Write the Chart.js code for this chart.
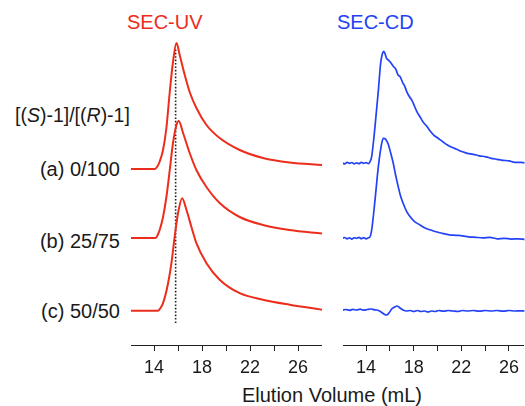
<!DOCTYPE html>
<html>
<head>
<meta charset="utf-8">
<script src="https://cdn.jsdelivr.net/npm/chart.js@4/dist/chart.umd.min.js"></script>
<style>
  html, body { margin: 0; padding: 0; background: #fff; overflow: hidden; }
  body { width: 525px; height: 406px; position: relative; font-family: "Liberation Sans", Arial, sans-serif; }
  .t { position: absolute; white-space: nowrap; line-height: 20px; font-size: 20px; color: #1a1a1a; }
  canvas { position: absolute; top: 0; }
</style>
</head>
<body>
<div class="t" id="titleUV" style="left:127px; top:12px; color:#ec2d1c;">SEC-UV</div>
<div class="t" id="titleCD" style="left:337px; top:12px; color:#2342f6;">SEC-CD</div>
<div class="t" style="left:15px; top:105px; font-size:19.5px;">[(<i>S</i>)-1]/[(<i>R</i>)-1]</div>
<div class="t" id="labA" style="right:405px; top:159px;"></div>
<div class="t" id="labB" style="right:405px; top:231px;"></div>
<div class="t" id="labC" style="right:405px; top:301px;"></div>
<div class="t" style="left:0; width:664px; text-align:center; top:385px;">Elution Volume (mL)</div>
<canvas id="uv" width="191" height="406" style="left:131px;"></canvas>
<canvas id="cd" width="182" height="406" style="left:343px;"></canvas>
<script>
// ---- data ----
const sampleLabels = ["(a) 0/100", "(b) 25/75", "(c) 50/50"];
const tickValues = [14, 16, 18, 20, 22, 24, 26];
const tickLabels = ["14", "", "18", "", "22", "", "26"];

// SEC-UV traces (elution volume mL, signal a.u. above each baseline)
const uvAx = [12.0, 14.06, 14.3, 14.47, 14.75, 15.03, 15.31, 15.58, 15.87, 16.14, 16.56, 16.97, 17.53, 18.37, 19.47, 21.14, 23.08, 25.3, 28.0];
const uvAy = [0, 0, 0.3, 0.75, 1.9, 4.1, 7.7, 10.7, 12.6, 11.4, 9.4, 7.7, 6.1, 4.4, 3.1, 1.9, 1.1, 0.65, 0.4];
const uvBx = [12.0, 14.14, 14.3, 14.47, 14.75, 15.03, 15.31, 15.58, 15.87, 16.06, 16.42, 16.97, 17.53, 18.37, 19.47, 21.14, 23.08, 25.3, 28.0];
const uvBy = [0, 0, 0.3, 0.8, 2.1, 4.1, 6.8, 9.5, 11.3, 11.7, 10.5, 8.5, 6.8, 5.1, 3.5, 2.1, 1.3, 0.8, 0.45];
const uvCx = [12.0, 14.33, 14.5, 14.75, 15.17, 15.45, 15.72, 16.0, 16.34, 16.7, 17.11, 17.53, 18.37, 19.47, 21.14, 23.08, 25.3, 28.0];
const uvCy = [0, 0, 0.2, 0.75, 2.75, 4.75, 7.4, 9.75, 11.25, 10.1, 8.4, 6.75, 4.75, 3.1, 1.75, 1.1, 0.6, 0.1];

// SEC-CD traces
const cdAx = [12.0, 12.2, 12.4, 12.6, 12.8, 13.0, 13.2, 13.4, 13.6, 13.8, 14.0, 14.2, 14.3, 14.47, 14.75, 15.03, 15.22, 15.38, 15.48, 15.58, 15.72, 15.9, 16.05, 16.28, 16.5, 16.7, 16.83, 17.1, 17.25, 17.4, 17.67, 17.85, 18.0, 18.25, 18.5, 18.8, 19.1, 19.33, 19.7, 20.05, 20.44, 20.8, 21.2, 21.6, 22.1, 22.5, 23.0, 23.5, 24.06, 24.5, 25.0, 25.5, 26.0, 26.5, 27.0, 27.3];
const cdAy = [0.05, -0.05, 0.1, 0, 0.08, -0.06, 0.05, -0.04, 0.1, 0, 0.07, -0.03, 0.1, 0.7, 3.7, 7.3, 10.0, 11.0, 11.2, 11.0, 10.5, 10.3, 10.1, 9.7, 9.4, 8.8, 8.7, 8.0, 7.7, 7.2, 6.6, 6.3, 5.9, 5.2, 4.7, 4.1, 3.7, 3.3, 2.8, 2.5, 2.15, 1.85, 1.6, 1.4, 1.15, 1.0, 0.9, 0.75, 0.65, 0.5, 0.4, 0.3, 0.25, 0.1, 0.1, 0.05];
const cdBx = [12.0, 12.2, 12.4, 12.6, 12.8, 13.0, 13.2, 13.4, 13.6, 13.8, 14.0, 14.2, 14.3, 14.47, 14.75, 15.03, 15.31, 15.45, 15.53, 15.7, 15.86, 16.05, 16.28, 16.5, 16.69, 16.9, 17.11, 17.4, 17.67, 18.0, 18.5, 19.0, 19.5, 19.89, 20.4, 21.0, 21.5, 22.1, 22.6, 23.2, 23.8, 24.4, 25.0, 25.6, 26.2, 26.8, 27.3];
const cdBy = [0, 0.08, -0.05, 0.05, -0.08, 0.05, 0, 0.1, -0.04, 0.06, -0.05, 0.05, 0.1, 0.85, 3.85, 7.2, 9.5, 10.0, 10.0, 9.8, 9.4, 8.6, 7.5, 6.2, 5.2, 4.2, 3.5, 2.7, 2.2, 1.75, 1.35, 1.0, 0.8, 0.65, 0.5, 0.35, 0.3, 0.25, 0.15, 0.1, 0.05, 0.1, -0.05, 0, -0.08, -0.05, -0.1];
const cdCx = [12.0, 12.3, 12.6, 12.9, 13.2, 13.5, 13.8, 14.1, 14.4, 14.7, 14.9, 15.2, 15.5, 15.72, 15.95, 16.15, 16.4, 16.6, 16.8, 17.1, 17.4, 17.7, 18.0, 18.3, 18.6, 18.9, 19.2, 19.5, 19.8, 20.1, 20.5, 20.9, 21.3, 21.7, 22.1, 22.5, 23.0, 23.5, 24.0, 24.5, 25.0, 25.5, 26.0, 26.5, 27.0, 27.3];
const cdCy = [0, 0.05, -0.03, 0.06, 0, 0.08, -0.02, 0.05, 0.1, 0.02, 0, -0.15, -0.4, -0.5, -0.25, 0.1, 0.3, 0.4, 0.25, 0, -0.1, -0.05, -0.15, -0.05, -0.15, -0.1, -0.2, -0.1, -0.15, -0.05, -0.12, -0.05, -0.1, -0.15, -0.05, -0.1, -0.05, -0.12, -0.05, -0.1, -0.05, -0.12, -0.05, -0.1, -0.08, -0.1];

// vertical offsets of the stacked traces (a, b, c)
const uvOffsets = [17.6, 10.7, 3.43];
const cdOffsets = [18.17, 10.67, 3.5];
// reference line at the (a) UV peak elution volume
const refVolume = 15.8;
const refSpan = [2.2, 29.7];

// ---- build ----
document.getElementById('labA').textContent = sampleLabels[0];
document.getElementById('labB').textContent = sampleLabels[1];
document.getElementById('labC').textContent = sampleLabels[2];

const RED = '#ec2d1c', BLUE = '#2342f6';
const pts = (xs, ys, off) => xs.map((x, i) => ({ x: x, y: ys[i] + off }));

function lineDs(data, color, width) {
  return { data, borderColor: color, borderWidth: width, pointRadius: 0, fill: false,
           cubicInterpolationMode: 'monotone', clip: 4 };
}

function xAxis(min, max) {
  return {
    type: 'linear', min, max,
    afterBuildTicks: s => { s.ticks = tickValues.map(v => ({ value: v })); },
    afterFit: s => { s.height = 61; },
    grid: { display: true, drawOnChartArea: false, drawTicks: true, tickLength: 6, tickColor: '#222', lineWidth: 1 },
    border: { display: true, color: '#222', width: 1 },
    ticks: {
      autoSkip: false, maxRotation: 0, padding: 6, color: '#1a1a1a',
      font: { family: '"Liberation Sans", Arial, sans-serif', size: 18 },
      callback: (v) => { const i = tickValues.indexOf(v); return i >= 0 ? tickLabels[i] : ''; }
    }
  };
}

const common = {
  responsive: false, animation: false, devicePixelRatio: 1,
  layout: { padding: 0 },
  plugins: { legend: { display: false }, tooltip: { enabled: false } },
};

new Chart(document.getElementById('uv'), {
  type: 'line',
  data: { datasets: [
    lineDs(pts(uvAx, uvAy, uvOffsets[0]), RED, 2),
    lineDs(pts(uvBx, uvBy, uvOffsets[1]), RED, 2),
    lineDs(pts(uvCx, uvCy, uvOffsets[2]), RED, 2),
    { data: [{ x: refVolume, y: refSpan[0] }, { x: refVolume, y: refSpan[1] }],
      borderColor: '#222', borderWidth: 1.6, borderDash: [1.6, 1.8], pointRadius: 0, tension: 0 }
  ] },
  options: Object.assign({}, common, {
    scales: { x: xAxis(12.08, 28.0), y: { display: false, min: 0, max: 34.5 } }
  })
});

new Chart(document.getElementById('cd'), {
  type: 'line',
  data: { datasets: [
    lineDs(pts(cdAx, cdAy, cdOffsets[0]), BLUE, 1.7),
    lineDs(pts(cdBx, cdBy, cdOffsets[1]), BLUE, 1.7),
    lineDs(pts(cdCx, cdCy, cdOffsets[2]), BLUE, 1.7)
  ] },
  options: Object.assign({}, common, {
    scales: { x: xAxis(12.06, 27.23), y: { display: false, min: 0, max: 34.5 } }
  })
});
</script>
</body>
</html>
